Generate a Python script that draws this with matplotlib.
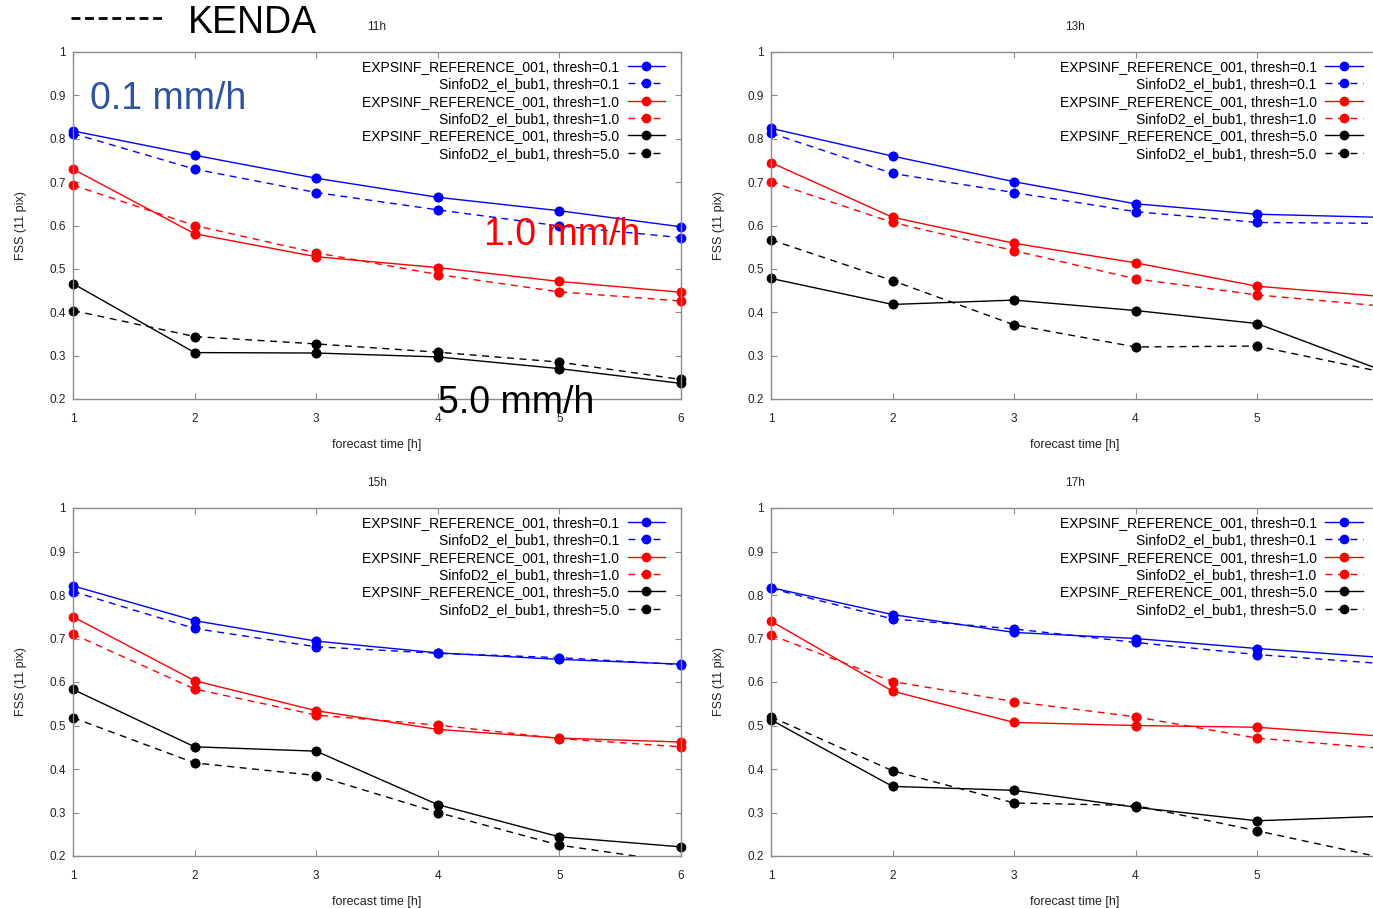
import numpy as np
import matplotlib
matplotlib.use('Agg')
import matplotlib.pyplot as plt
from matplotlib.lines import Line2D
from matplotlib.ticker import FuncFormatter

plt.rcParams['font.family'] = ['Liberation Sans', 'DejaVu Sans']

hours = [1, 2, 3, 4, 5, 6]
runs = ['11h', '13h', '15h', '17h']
thresholds = ['0.1', '1.0', '5.0']

# FSS values, one row per run (11h, 13h, 15h, 17h)
exp_thr01 = [[0.818, 0.762, 0.709, 0.665, 0.634, 0.597],
             [0.824, 0.760, 0.701, 0.650, 0.626, 0.619],
             [0.821, 0.741, 0.694, 0.667, 0.652, 0.641],
             [0.817, 0.755, 0.714, 0.700, 0.677, 0.657]]
sinfo_thr01 = [[0.812, 0.730, 0.676, 0.636, 0.599, 0.572],
               [0.813, 0.720, 0.676, 0.632, 0.607, 0.605],
               [0.808, 0.723, 0.681, 0.666, 0.656, 0.640],
               [0.815, 0.745, 0.722, 0.691, 0.663, 0.643]]
exp_thr10 = [[0.730, 0.581, 0.528, 0.503, 0.471, 0.446],
             [0.745, 0.619, 0.559, 0.514, 0.460, 0.437],
             [0.750, 0.603, 0.534, 0.491, 0.471, 0.462],
             [0.740, 0.579, 0.507, 0.500, 0.496, 0.476]]
sinfo_thr10 = [[0.693, 0.600, 0.537, 0.487, 0.447, 0.426],
               [0.701, 0.607, 0.542, 0.477, 0.440, 0.415],
               [0.710, 0.584, 0.524, 0.501, 0.470, 0.451],
               [0.708, 0.601, 0.555, 0.520, 0.471, 0.448]]
exp_thr50 = [[0.466, 0.307, 0.306, 0.297, 0.270, 0.236],
             [0.478, 0.418, 0.428, 0.404, 0.374, 0.269],
             [0.583, 0.451, 0.441, 0.318, 0.244, 0.221],
             [0.513, 0.360, 0.351, 0.312, 0.281, 0.291]]
sinfo_thr50 = [[0.404, 0.344, 0.327, 0.308, 0.285, 0.245],
               [0.567, 0.473, 0.371, 0.320, 0.322, 0.264],
               [0.518, 0.414, 0.385, 0.300, 0.225, 0.185],
               [0.520, 0.396, 0.322, 0.316, 0.258, 0.198]]

exp_series = [exp_thr01, exp_thr10, exp_thr50]
sinfo_series = [sinfo_thr01, sinfo_thr10, sinfo_thr50]
colors = ['#0000ff', '#ff0000', '#000000']

W, H = 1373, 908
fig = plt.figure(figsize=(W / 100, H / 100), dpi=100)

# axes boxes in pixels: left, top, right, bottom
boxes = [(73, 52, 681, 399), (771, 52, 1378.5, 399),
         (73, 508, 681, 856), (771, 508, 1378.5, 856)]

gray = '#8c8c8c'
for i, run in enumerate(runs):
    l, t, r, b = boxes[i]
    ax = fig.add_axes([l / W, 1 - b / H, (r - l) / W, (b - t) / H])
    for k, thr in enumerate(thresholds):
        c = colors[k]
        ye = np.array(exp_series[k][i])
        ys = np.array(sinfo_series[k][i])
        ax.plot(hours, ye, color=c, lw=1.0, marker='o', ms=6,
                label='EXPSINF_REFERENCE_001, thresh=' + thr)
        ax.plot(hours, ys, color=c, lw=1.0, marker='o', ms=6,
                linestyle=(0, (5, 4)),
                label='SinfoD2_el_bub1, thresh=' + thr)
        # markers at the frame edges are drawn whole, like gnuplot
        for y in (ye, ys):
            ym = np.ma.masked_less(y, 0.2)
            ax.plot(hours, ym, linestyle='none', marker='o', ms=6,
                    color=c, clip_on=False)

    ax.set_xlim(1, 6)
    ax.set_ylim(0.2, 1.0)
    ax.set_xticks(hours)
    if r > W:
        # right panels are cut at the image edge, the last label falls outside
        ax.set_xticklabels([str(h) for h in hours[:-1]] + [''])
    ax.set_yticks([0.2, 0.3, 0.4, 0.5, 0.6, 0.7, 0.8, 0.9, 1.0])
    ax.yaxis.set_major_formatter(FuncFormatter(lambda v, p: '%g' % round(v, 1)))
    ax.tick_params(direction='in', length=4.5, width=0.8, color=gray,
                   top=True, right=True, labelsize=8.5, labelcolor='#222222')
    ax.tick_params(axis='x', pad=10)
    ax.tick_params(axis='y', pad=5)
    for s in ax.spines.values():
        s.set_color(gray)
        s.set_linewidth(1.0)

    ax.set_xlabel('forecast time [h]', fontsize=9, color='#222222')
    ax.set_ylabel('FSS (11 pix)', fontsize=9, color='#222222')
    ax.xaxis.set_label_coords(0.5, -40 / (b - t))
    ax.yaxis.set_label_coords(-46 / (r - l), 0.5)
    ax.text(0.5, 1 + 25 / (b - t), run, transform=ax.transAxes,
            ha='center', va='center', fontsize=8.5, color='#222222')

    ax.legend(loc='upper right', bbox_to_anchor=(1 - 16 / (r - l), 1 - 8 / (b - t)),
              borderaxespad=0, borderpad=0, frameon=False, markerfirst=False,
              handlelength=2.7, handletextpad=0.6, labelspacing=0.24,
              fontsize=10)

# KENDA key at the top
fig.add_artist(Line2D([71 / W, 162 / W], [1 - 17.5 / H, 1 - 17.5 / H],
                      color='black', lw=2, dashes=(3.2, 1.7)))
fig.text(188 / W, 1 - 23 / H, 'KENDA', fontsize=27, ha='left', va='center')

# threshold annotations
fig.text(90 / W, 1 - 99 / H, '0.1 mm/h', fontsize=27, color='#2f52a0',
         ha='left', va='center')
fig.text(484 / W, 1 - 235 / H, '1.0 mm/h', fontsize=27, color='#ff0000',
         ha='left', va='center')
fig.text(438 / W, 1 - 403 / H, '5.0 mm/h', fontsize=27, color='black',
         ha='left', va='center')

fig.savefig('out.png', dpi=100)
